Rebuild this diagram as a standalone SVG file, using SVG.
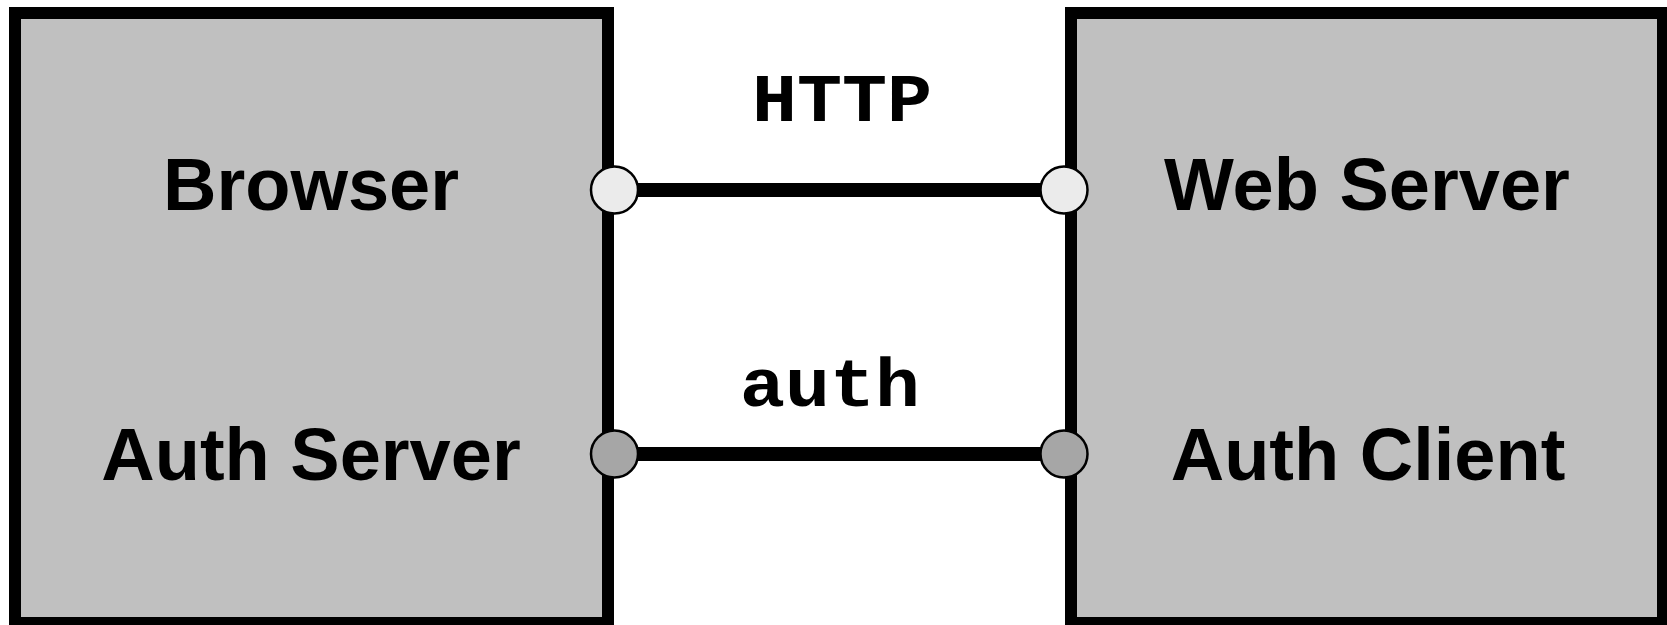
<svg xmlns="http://www.w3.org/2000/svg" width="1667" height="625" viewBox="0 0 1667 625">
  <style>
    .box { fill: #c0c0c0; stroke: #000; stroke-width: 12; }
    .label { font-family: "Liberation Sans", Arial, sans-serif; font-weight: bold; font-size: 74px; text-anchor: middle; fill: #000; }
    .proto { font-family: "Courier New", "Nimbus Mono PS", "Nimbus Mono L", FreeMono, "Liberation Mono", monospace; font-weight: bold; font-size: 68px; text-anchor: middle; fill: #000; }
    .wire { stroke: #000; stroke-width: 14; fill: none; }
    .port { stroke: #000; stroke-width: 2.5; }
    .port-http { fill: #ebebeb; }
    .port-auth { fill: #a6a6a6; }
  </style>

  <g id="connectors">
    <line class="wire" x1="614" y1="190" x2="1064" y2="190"/>
    <line class="wire" x1="614" y1="454" x2="1064" y2="454"/>
    <text class="proto" x="842" y="121" textLength="180" lengthAdjust="spacingAndGlyphs">HTTP</text>
    <text class="proto" x="830" y="406" textLength="180" lengthAdjust="spacingAndGlyphs">auth</text>
  </g>

  <g id="client-host">
    <rect class="box" x="15" y="13" width="593" height="610"/>
    <text class="label" x="311" y="210">Browser</text>
    <text class="label" x="311" y="480">Auth Server</text>
    <circle class="port port-http" cx="614.5" cy="190" r="23.5"/>
    <circle class="port port-auth" cx="614.5" cy="454" r="23.5"/>
  </g>

  <g id="server-host">
    <rect class="box" x="1071" y="13" width="592" height="610"/>
    <text class="label" x="1367" y="210">Web Server</text>
    <text class="label" x="1368" y="480">Auth Client</text>
    <circle class="port port-http" cx="1064" cy="190" r="23.5"/>
    <circle class="port port-auth" cx="1064" cy="454" r="23.5"/>
  </g>
</svg>
